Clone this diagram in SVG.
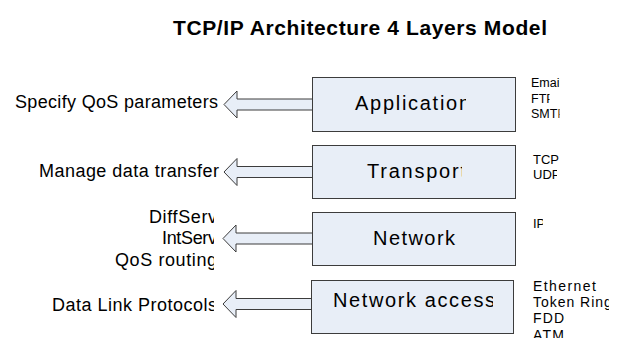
<svg xmlns="http://www.w3.org/2000/svg" width="621" height="338" viewBox="0 0 621 338">
  <style>
    .title { font-family: "Liberation Sans", Arial, sans-serif; font-weight: bold; font-size: 21px; fill: #000; }
    .layer { fill: #e8eef7; stroke: #3c3c3c; stroke-width: 1; }
    .arrow { fill: #e8eef7; stroke: #3c3c3c; stroke-width: 1; stroke-linejoin: miter; }
    .lbl { font-family: "Liberation Sans", Arial, sans-serif; font-size: 20px; fill: #000; }
    .side { font-family: "Liberation Sans", Arial, sans-serif; font-size: 18px; fill: #000; }
    .proto12 { font-family: "Liberation Sans", Arial, sans-serif; font-size: 12.5px; fill: #000; }
    .proto { font-family: "Liberation Sans", Arial, sans-serif; font-size: 13px; fill: #000; }
    .proto14 { font-family: "Liberation Sans", Arial, sans-serif; font-size: 14px; letter-spacing: 1.2px; fill: #000; }
  </style>
  <defs>
    <!-- text frames that cut off the last glyph of each run -->
    <clipPath id="cApp" clipPathUnits="userSpaceOnUse"><rect x="300" y="70" width="166" height="60"/></clipPath>
    <clipPath id="cTra" clipPathUnits="userSpaceOnUse"><rect x="300" y="140" width="162" height="60"/></clipPath>
    <clipPath id="cNac" clipPathUnits="userSpaceOnUse"><rect x="300" y="280" width="193" height="50"/></clipPath>
    <clipPath id="cLeft" clipPathUnits="userSpaceOnUse"><rect x="0" y="200" width="214" height="130"/></clipPath>
    <clipPath id="cEmail" clipPathUnits="userSpaceOnUse"><rect x="520" y="70" width="39.5" height="20"/></clipPath>
    <clipPath id="cFtp" clipPathUnits="userSpaceOnUse"><rect x="520" y="90" width="29.5" height="16"/></clipPath>
    <clipPath id="cSmtp" clipPathUnits="userSpaceOnUse"><rect x="520" y="106" width="39.5" height="16"/></clipPath>
    <clipPath id="cUdp" clipPathUnits="userSpaceOnUse"><rect x="520" y="166" width="37" height="18"/></clipPath>
    <clipPath id="cIp" clipPathUnits="userSpaceOnUse"><rect x="520" y="210" width="23" height="22"/></clipPath>
    <clipPath id="cRing" clipPathUnits="userSpaceOnUse"><rect x="520" y="294" width="89" height="16"/></clipPath>
    <clipPath id="cFddi" clipPathUnits="userSpaceOnUse"><rect x="520" y="310" width="45.5" height="16"/></clipPath>
  </defs>

  <text class="title" x="173" y="35" textLength="374">TCP/IP Architecture 4 Layers Model</text>

  <!-- block arrows pointing from each layer to its role -->
  <g id="connectors">
    <polygon class="arrow" points="224,104.5 237,91 237,99 312.5,99 312.5,110 237,110 237,118"/>
    <polygon class="arrow" points="224,172 237,158.5 237,166.5 312.5,166.5 312.5,177.5 237,177.5 237,185.5"/>
    <polygon class="arrow" points="223,238.5 236,225 236,233 312.5,233 312.5,244 236,244 236,252"/>
    <polygon class="arrow" points="223,304 236,290.5 236,298.5 311.5,298.5 311.5,309.5 236,309.5 236,317.5"/>
  </g>

  <g id="application">
    <rect class="layer" x="312.5" y="77.5" width="203" height="54"/>
    <text class="lbl" x="355" y="110" textLength="115" clip-path="url(#cApp)">Application</text>
    <text class="side" x="15" y="108" textLength="203">Specify QoS parameters</text>
    <text class="proto12" x="531" y="87" clip-path="url(#cEmail)">Email</text>
    <text class="proto12" x="531" y="102.5" clip-path="url(#cFtp)">FTP</text>
    <text class="proto12" x="531" y="118" clip-path="url(#cSmtp)">SMTP</text>
  </g>

  <g id="transport">
    <rect class="layer" x="312.5" y="145.5" width="203" height="53"/>
    <text class="lbl" x="367" y="178" textLength="99" clip-path="url(#cTra)">Transport</text>
    <text class="side" x="39" y="177" textLength="180">Manage data transfer</text>
    <text class="proto" x="533" y="164">TCP</text>
    <text class="proto" x="533" y="179" clip-path="url(#cUdp)">UDP</text>
  </g>

  <g id="network">
    <rect class="layer" x="312.5" y="212.5" width="203" height="53"/>
    <text class="lbl" x="373" y="245" textLength="82">Network</text>
    <g clip-path="url(#cLeft)">
      <text class="side" x="149" y="222.5" textLength="68">DiffServ</text>
      <text class="side" x="162" y="244" textLength="55">IntServ</text>
      <text class="side" x="115" y="265.5" textLength="102">QoS routing</text>
    </g>
    <text class="proto" x="533" y="228" clip-path="url(#cIp)">IP</text>
  </g>

  <g id="network-access">
    <rect class="layer" x="311.5" y="280.5" width="202" height="53"/>
    <text class="lbl" x="333" y="307" textLength="162" clip-path="url(#cNac)">Network access</text>
    <g clip-path="url(#cLeft)">
      <text class="side" x="52" y="311" textLength="165">Data Link Protocols</text>
    </g>
    <text class="proto14" x="533" y="291" textLength="64">Ethernet</text>
    <text class="proto14" x="533" y="307" textLength="80" clip-path="url(#cRing)">Token Ring</text>
    <text class="proto14" x="533" y="323" clip-path="url(#cFddi)">FDDI</text>
    <text class="proto14" x="533" y="340">ATM</text>
  </g>
</svg>
